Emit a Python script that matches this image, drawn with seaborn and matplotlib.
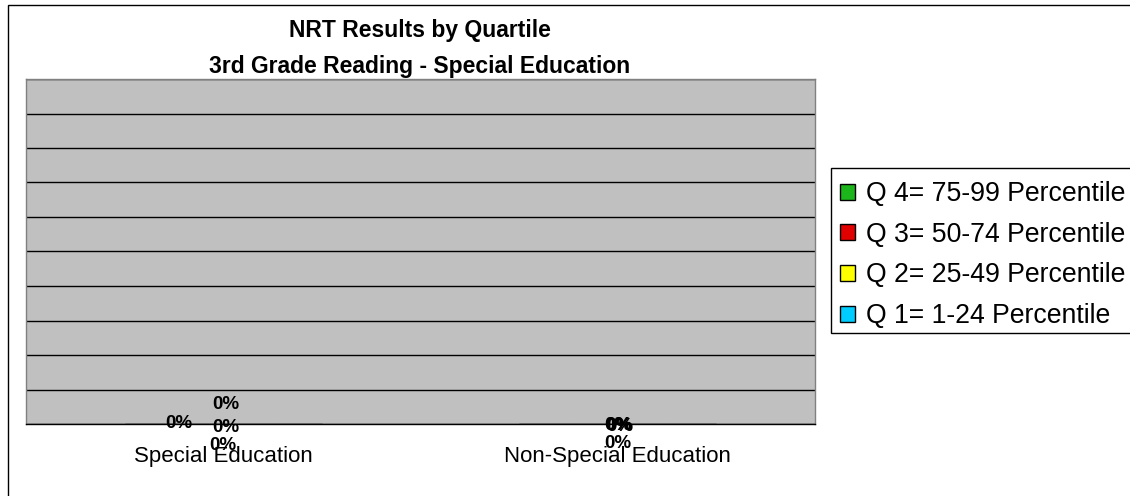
import matplotlib
matplotlib.use("Agg")
import matplotlib.pyplot as plt
from matplotlib.patches import Patch, Rectangle
from matplotlib.ticker import MultipleLocator, FixedLocator
import seaborn as sns
import pandas as pd

# ---------------- data ----------------
categories = ["Special Education", "Non-Special Education"]
quartiles = ["Q 1= 1-24 Percentile", "Q 2= 25-49 Percentile",
             "Q 3= 50-74 Percentile", "Q 4= 75-99 Percentile"]
q1_values = [0.0, 0.0]
q2_values = [0.0, 0.0]
q3_values = [0.0, 0.0]
q4_values = [0.0, 0.0]
quartile_colors = ["#00CCFF", "#FFFF00", "#E00000", "#1CB51C"]
title_lines = ["NRT Results by Quartile", "3rd Grade Reading - Special Education"]

# label offsets (pixels) per category, per quartile -- layout only
label_offsets = [
    [(0, -21), (2.5, -3.5), (-44, 1), (2.5, 19.5)],
    [(0.5, -20), (1.5, -2), (0.5, -1), (2.5, -2.5)],
]

rows = []
for qi, (q, vals) in enumerate(zip(quartiles, [q1_values, q2_values, q3_values, q4_values])):
    for c, v in zip(categories, vals):
        rows.append({"category": c, "quartile": q, "value": v})
df = pd.DataFrame(rows)

sns.set_style("white")
plt.rcParams["font.family"] = ["Liberation Sans", "DejaVu Sans"]
plt.rcParams["text.color"] = "black"
plt.rcParams["xtick.labelcolor"] = "black"

W, H = 1130, 496
fig = plt.figure(figsize=(W / 100, H / 100), dpi=100)
fig.patch.set_facecolor("white")

def fx(px):
    return px / W

def fy(py):
    return 1 - py / H

# outer chart border (clipped at right and bottom)
fig.add_artist(Rectangle((fx(8), fy(H + 20)), fx(W + 40), (H + 15) / H,
                         transform=fig.transFigure, fill=False,
                         edgecolor="black", linewidth=1.0, clip_on=False))

left, right, top, bottom = 26, 815, 79, 424
ax = fig.add_axes([fx(left), fy(bottom), (right - left) / W, (bottom - top) / H])
ax.set_facecolor("#C0C0C0")

palette = dict(zip(quartiles, quartile_colors))
sns.barplot(data=df, x="category", y="value", hue="quartile", hue_order=quartiles,
            order=categories, palette=palette, ax=ax, legend=False,
            edgecolor="black", linewidth=1, width=0.5)

ax.set_xlim(-0.5, 1.5)
ax.set_ylim(0, 1)
ax.yaxis.set_major_locator(MultipleLocator(0.1))
ax.grid(axis="y", color="black", linewidth=1)
ax.set_axisbelow(True)
ax.tick_params(axis="y", left=False, labelleft=False)
ax.set_xlabel("")
ax.set_ylabel("")
ax.xaxis.set_major_locator(FixedLocator([0, 1]))
ax.set_xticklabels(categories, fontsize=16, color="black")
ax.tick_params(axis="x", which="major", length=0, pad=15.5)
ax.xaxis.set_minor_locator(FixedLocator([-0.5, 0.5, 1.5]))
ax.tick_params(axis="x", which="minor", length=5, width=1, color="#404040", direction="out")

for s in ["left", "right", "top"]:
    ax.spines[s].set_color("#808080")
    ax.spines[s].set_linewidth(1)
ax.spines["bottom"].set_color("black")
ax.spines["bottom"].set_linewidth(1)

# data labels
all_vals = [q1_values, q2_values, q3_values, q4_values]
for ci in range(len(categories)):
    base = 0.0
    for qi in range(len(quartiles)):
        v = all_vals[qi][ci]
        dx, dy = label_offsets[ci][qi]
        ax.annotate(f"{v:.0%}", xy=(ci, base + v / 2), xytext=(dx, dy),
                    textcoords="offset pixels", ha="center", va="center",
                    fontsize=13.5, fontweight="bold", color="black",
                    annotation_clip=False)
        base += v

# title
fig.text(fx(420), fy(31), title_lines[0], ha="center", va="center",
         fontsize=16.5, fontweight="bold", color="black")
fig.text(fx(420), fy(67), title_lines[1], ha="center", va="center",
         fontsize=16.5, fontweight="bold", color="black")

# legend frame and entries (top entry is Q4)
fig.add_artist(Rectangle((fx(831), fy(333)), fx(400), (333 - 168) / H,
                         transform=fig.transFigure, fill=True, facecolor="white",
                         edgecolor="black", linewidth=1.0, clip_on=False, zorder=2))
handles = [Patch(facecolor=col, edgecolor="black", linewidth=1, label=q)
           for q, col in zip(quartiles[::-1], quartile_colors[::-1])]
leg = fig.legend(handles=handles, loc="upper left",
                 bbox_to_anchor=(fx(832), fy(173)), frameon=False,
                 fontsize=19.2, handlelength=0.55, handleheight=0.55,
                 handletextpad=0.42, labelspacing=0.55, borderaxespad=0,
                 borderpad=0.3)
for t in leg.get_texts():
    t.set_color("black")
leg.set_zorder(3)

fig.savefig("out.png", dpi=100)
